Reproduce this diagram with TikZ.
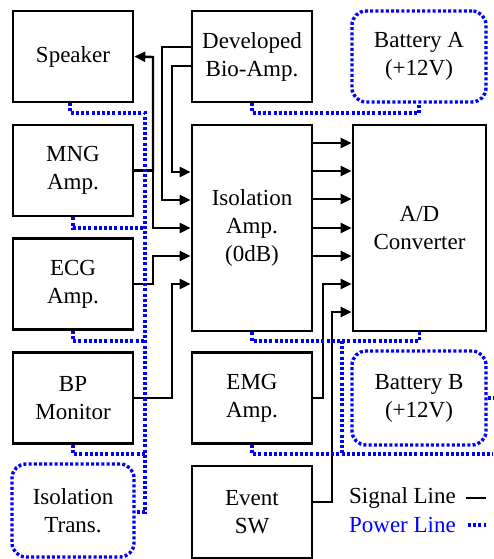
\documentclass[tikz,border=0pt]{standalone}
\usepackage{fontspec}
\setmainfont{Liberation Serif}
\usetikzlibrary{arrows.meta}
\begin{document}
\begin{tikzpicture}[
    x={(1pt,0pt)},y={(0pt,-1pt)},
    every node/.style={font=\fontsize{23}{28}\selectfont,align=center,inner sep=0pt},
    blk/.style={draw,line width=2.6pt,minimum width=120pt,minimum height=91pt},
    sig/.style={line width=2.4pt,-{Triangle[length=11pt,width=10pt]}},
    pwr/.style={blue,line width=3.4pt,dash pattern=on 3pt off 2.2pt},
    batt/.style={draw=blue,line width=3.4pt,dash pattern=on 3pt off 2.2pt,rounded corners=14pt}]
    \useasboundingbox (0,0) rectangle (493,559);
    % left column
    \node[blk] (spk) at (73,56.5) {Speaker};
    \node[blk] (mng) at (73,170.5) {MNG\\Amp.};
    \node[blk] (ecg) at (73,284) {ECG\\Amp.};
    \node[blk] (bp) at (73,398) {BP\\Monitor};
    \node[batt,minimum width=122pt,minimum height=93pt] (trans) at (73,510.5) {Isolation\\Trans.};
    % middle column
    \node[blk] (dev) at (252,56.5) {Developed\\Bio-Amp.};
    \node[blk,minimum height=206pt] (iso) at (252,228) {Isolation\\Amp.\\(0dB)};
    \node[blk] (emg) at (252,398) {EMG\\Amp.};
    \node[blk,minimum height=92pt] (evt) at (252,512) {Event\\SW};
    % right column
    \node[batt,minimum width=134pt,minimum height=91pt] (bata) at (419,56.5) {Battery A\\(+12V)};
    \node[blk,minimum width=133pt,minimum height=206pt] (ad) at (419.5,228) {A/D\\Converter};
    \node[batt,minimum width=134pt,minimum height=94pt] (batb) at (419,398) {Battery B\\(+12V)};
    % signal lines
    \draw[sig] (dev.west |- 0,47) -| (162,200) -- (iso.west |- 0,200);
    \draw[sig] (dev.west |- 0,66) -| (172,172) -- (iso.west |- 0,172);
    \draw[sig] (mng.east) -| (153,57) -- (spk.east);
    \draw[sig] (mng.east) -| (153,228) -- (iso.west |- 0,228);
    \draw[sig] (ecg.east) -| (153,256) -- (iso.west |- 0,256);
    \draw[sig] (bp.east) -| (172,284) -- (iso.west |- 0,284);
    \foreach \y in {143,171,199,228,256}
        \draw[sig] (iso.east |- 0,\y) -- (ad.west |- 0,\y);
    \draw[sig] (emg.east) -| (323,284) -- (ad.west |- 0,284);
    \draw[sig] (evt.east |- 0,502) -| (332,312) -- (ad.west |- 0,312);
    % power lines
    \draw[pwr] ([xshift=-3pt]spk.south) |- (145,113) -- (145,512) -- (trans.east |- 0,512);
    \foreach \n/\y in {mng/228,ecg/341,bp/454}
        \draw[pwr] (\n.south) |- (145,\y);
    \draw[pwr] (dev.south) |- (bata.south |- 0,113) -- (bata.south);
    \draw[pwr] (iso.south) |- (ad.south |- 0,341) -- (ad.south);
    \draw[pwr] (342,341) -- (342,454);
    \draw[pwr] (emg.south) |- (493,454);
    \draw[pwr] (batb.east) -- (493,398);
    % legend
    \node[anchor=east] (sigl) at (456,498) {Signal Line};
    \node[anchor=east,text=blue] (pwrl) at (456,525) {Power Line};
    \draw[line width=2.2pt] ([xshift=10pt]sigl.east) -- ++(20,0);
    \draw[pwr] ([xshift=12pt]pwrl.east) -- ++(18,0);
\end{tikzpicture}
\end{document}
